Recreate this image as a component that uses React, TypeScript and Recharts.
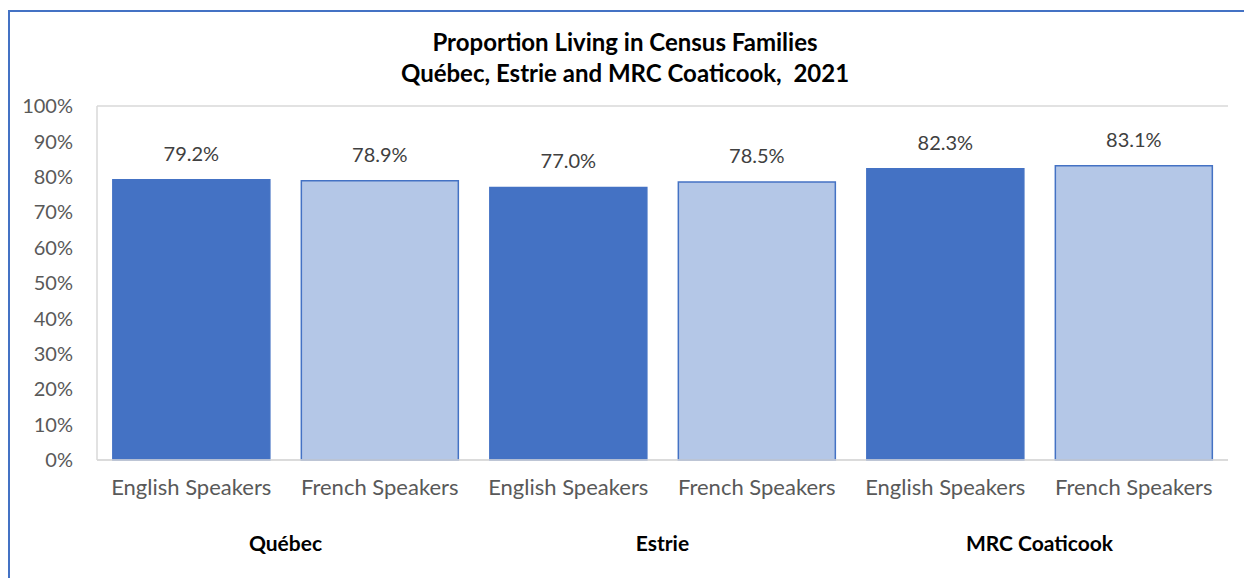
import React from 'react';
import { BarChart, Bar, XAxis, YAxis, CartesianGrid, Cell, LabelList } from 'recharts';

const categories = ['English Speakers', 'French Speakers', 'English Speakers', 'French Speakers', 'English Speakers', 'French Speakers'];
const groups = ['Québec', '', 'Estrie', '', 'MRC Coaticook', ''];
const values = [79.2, 78.9, 77.0, 78.5, 82.3, 83.1];
const yTicks = [0, 10, 20, 30, 40, 50, 60, 70, 80, 90, 100];
const titleLines = ['Proportion Living in Census Families', 'Québec, Estrie and MRC Coaticook,  2021'];

const data = categories.map((c, i) => ({ key: String(i), cat: c, group: groups[i], value: values[i] }));

const W = 1244;
const H = 578;
const CAT_H = 50;
const GRP_H = 60;
const M = { top: 106, right: 16, bottom: 578 - 460 - CAT_H - GRP_H, left: 0 };
const YW = 97;
const FONT = 'Lato, "Open Sans", sans-serif';
const DARK = '#4472C4';
const LIGHT = '#B4C7E7';

const plotW = W - M.left - M.right - YW;
const band = plotW / categories.length;

const GroupTick = (props: any) => {
  const { x, y, payload } = props;
  const g = groups[payload.index];
  if (!g) return null;
  return (
    <text x={x + band / 2} y={y} dy={33} textAnchor="middle" fontFamily={FONT} fontSize={21} fontWeight="bold" fill="#000">
      {g}
    </text>
  );
};

export default function App() {
  return (
    <div style={{ position: 'absolute', left: 0, top: 0, width: W, height: H, background: '#fff', fontFamily: FONT, overflow: 'hidden' }}>
      <div style={{ position: 'absolute', left: 8, top: 10, right: 0, bottom: 0, borderLeft: `2px solid ${DARK}`, borderTop: `2px solid ${DARK}` }} />
      <div style={{ position: 'absolute', left: 0, top: 26, width: 1250, textAlign: 'center', fontWeight: 'bold', fontSize: 24, lineHeight: '31px', color: '#000' }}>
        {titleLines.map((t, i) => <div key={i} style={{ whiteSpace: 'pre' }}>{t}</div>)}
      </div>
      <div style={{ position: 'absolute', left: 0, top: 0 }}>
        <BarChart width={W} height={H} data={data} margin={M} barCategoryGap="8.4%">
          <CartesianGrid vertical={false} stroke="#d9d9d9" strokeWidth={1.5} />
          <XAxis
            dataKey="key"
            xAxisId="cat"
            tickFormatter={(v: string) => categories[Number(v)]}
            tickLine={false}
            axisLine={{ stroke: '#d9d9d9', strokeWidth: 1.5 }}
            tickSize={0}
            tickMargin={19}
            interval={0}
            tick={{ fill: '#595959', fontSize: 22, fontFamily: FONT }}
            height={CAT_H}
          />
          <XAxis
            dataKey="key"
            xAxisId="grp"
            axisLine={false}
            tickLine={false}
            interval={0}
            tick={<GroupTick />}
            height={GRP_H}
          />
          <YAxis
            yAxisId="l"
            width={YW}
            domain={[0, 100]}
            ticks={yTicks}
            tickFormatter={(v: number) => `${v}%`}
            tickLine={false}
            tickSize={0}
            tickMargin={24}
            axisLine={{ stroke: '#d9d9d9', strokeWidth: 1.5 }}
            tick={{ fill: '#595959', fontSize: 20, fontFamily: FONT }}
            interval={0}
          />
          <YAxis yAxisId="r" orientation="right" width={0} domain={[0, 100]} tick={false} tickLine={false} axisLine={{ stroke: '#d9d9d9', strokeWidth: 1.5 }} />
          <Bar dataKey="value" xAxisId="cat" yAxisId="l" isAnimationActive={false} stroke={DARK} strokeWidth={1.5}>
            {data.map((d, i) => (
              <Cell key={i} fill={i % 2 === 0 ? DARK : LIGHT} />
            ))}
            <LabelList dataKey="value" position="top" offset={19} formatter={(v: number) => `${v.toFixed(1)}%`} fill="#404040" fontSize={20} fontFamily={FONT} />
          </Bar>
        </BarChart>
      </div>
    </div>
  );
}
